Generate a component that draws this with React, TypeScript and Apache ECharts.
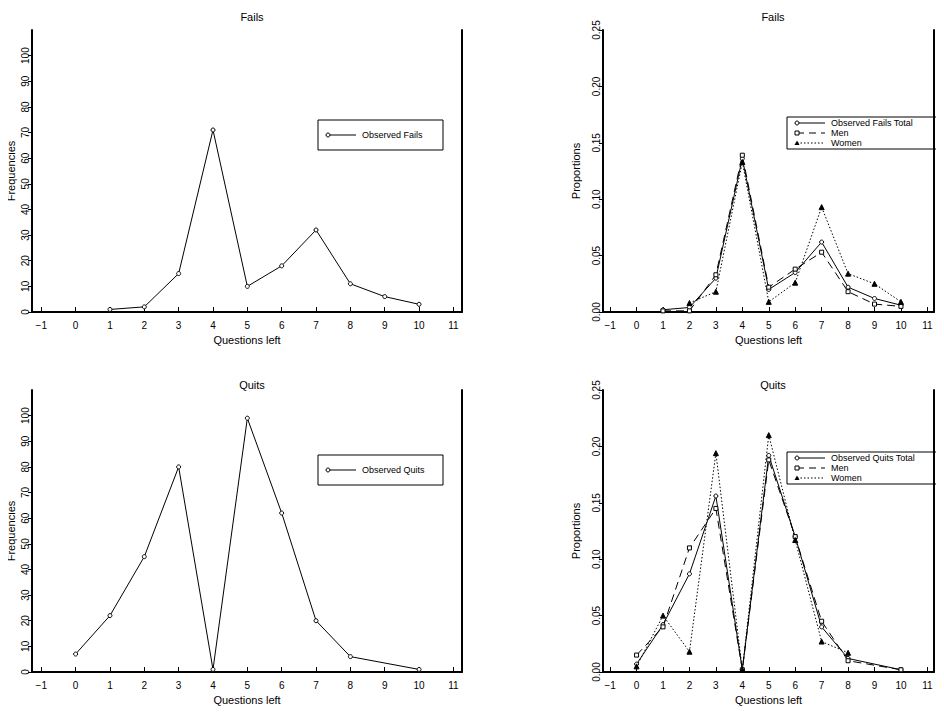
import React, { useEffect, useRef } from 'react';
import * as echarts from 'echarts';

const xTicks = [-1, 0, 1, 2, 3, 4, 5, 6, 7, 8, 9, 10, 11];

const failsX = [1, 2, 3, 4, 5, 6, 7, 8, 9, 10];
const failsFreq = [1, 2, 15, 71, 10, 18, 32, 11, 6, 3];
const failsTotal = [0.002, 0.004, 0.03, 0.136, 0.02, 0.035, 0.062, 0.022, 0.012, 0.006];
const failsMen = [0.001, 0.001, 0.033, 0.139, 0.022, 0.038, 0.053, 0.018, 0.007, 0.005];
const failsWomenX = [2, 3, 4, 5, 6, 7, 8, 9, 10];
const failsWomen = [0.008, 0.018, 0.133, 0.009, 0.026, 0.093, 0.034, 0.025, 0.009];

const quitsX = [0, 1, 2, 3, 4, 5, 6, 7, 8, 10];
const quitsFreq = [7, 22, 45, 80, 1, 99, 62, 20, 6, 1];
const quitsTotal = [0.007, 0.042, 0.087, 0.156, 0.002, 0.192, 0.12, 0.04, 0.012, 0.002];
const quitsMen = [0.015, 0.04, 0.11, 0.145, 0.002, 0.188, 0.12, 0.045, 0.01, 0.002];
const quitsWomenX = [0, 1, 2, 3, 4, 5, 6, 7, 8];
const quitsWomen = [0.005, 0.05, 0.018, 0.194, 0.002, 0.21, 0.117, 0.027, 0.017];

const FONT = 'Liberation Sans';
const zip = (xs: number[], ys: number[]) => xs.map((x, i) => [x, ys[i]]);

const grids = [
  { left: 32, top: 30, width: 430, height: 282 },
  { left: 603, top: 30, width: 331, height: 282 },
  { left: 32, top: 390, width: 430, height: 282 },
  { left: 603, top: 390, width: 331, height: 282 },
].map((g) => ({ ...g, containLabel: false, outerBoundsMode: 'none' }));

const lineStyle = { color: '#000', width: 2 };

function legendBox(x: number, y: number, w: number, labels: string[], kinds: string[]) {
  const h = labels.length === 1 ? 30 : 32;
  const children: any[] = [
    { type: 'rect', shape: { x, y, width: w, height: h }, style: { fill: '#fff', stroke: '#000', lineWidth: 1 } },
  ];
  labels.forEach((lab, i) => {
    const cy = labels.length === 1 ? y + h / 2 : y + 6 + i * 10;
    const k = kinds[i];
    const dash = k === 'men' ? [7, 5] : k === 'women' ? [1.5, 2] : null;
    children.push({ type: 'line', shape: { x1: x + 10, y1: cy, x2: x + 38, y2: cy }, style: { stroke: '#000', lineWidth: 1, lineDash: dash } });
    if (k === 'women') {
      children.push({ type: 'polygon', shape: { points: [[x + 10, cy - 2.5], [x + 7.5, cy + 2], [x + 12.5, cy + 2]] }, style: { fill: '#000' } });
    } else if (k === 'men') {
      children.push({ type: 'rect', shape: { x: x + 8, y: cy - 2, width: 4, height: 4 }, style: { fill: '#fff', stroke: '#000', lineWidth: 1 } });
    } else {
      children.push({ type: 'circle', shape: { cx: x + 10, cy, r: 2 }, style: { fill: '#fff', stroke: '#000', lineWidth: 1 } });
    }
    children.push({ type: 'text', x: x + 44, y: cy, style: { text: lab, font: `9px "${FONT}"`, fill: '#000', verticalAlign: 'middle' } });
  });
  return { type: 'group', children };
}

const yName = (text: string, x: number, y: number) => ({
  type: 'text', x, y, rotation: Math.PI / 2,
  style: { text, font: `11px "${FONT}"`, fill: '#000', align: 'center', verticalAlign: 'middle' },
});

const App: React.FC = () => {
  const chartRef = useRef<HTMLDivElement>(null);

  useEffect(() => {
    if (!chartRef.current) return;
    const chart = echarts.init(chartRef.current, null, { renderer: 'svg' });

    const xAxis = grids.map((_, i) => ({
      type: 'value', gridIndex: i, min: -1.27, max: 11.25,
      name: 'Questions left', nameLocation: 'middle', nameGap: 22,
      nameTextStyle: { fontFamily: FONT, fontSize: 11, color: '#000' },
      splitLine: { show: false },
      axisLine: { onZero: false, lineStyle },
      axisTick: { inside: true, length: 5, customValues: xTicks, lineStyle: { color: '#000' } },
      axisLabel: { customValues: xTicks, fontFamily: FONT, fontSize: 10, color: '#000', formatter: (v: number) => (v < 0 ? '\u2212' + -v : String(v)) },
    }));

    const yAxis: any[] = [];
    grids.forEach((_, i) => {
      const freq = i % 2 === 0;
      const ticks = freq ? [0, 10, 20, 30, 40, 50, 60, 70, 80, 90, 100] : [0, 0.05, 0.1, 0.15, 0.2, 0.25];
      yAxis.push({
        type: 'value', gridIndex: i, min: 0, max: freq ? 110 : 0.25,
        splitLine: { show: false },
        axisLine: { onZero: false, lineStyle },
        axisTick: { length: 4, lineStyle: { color: '#000' }, customValues: ticks },
        axisLabel: {
          rotate: 90, fontFamily: FONT, fontSize: 10, color: '#000', margin: 2,
          customValues: ticks,
          formatter: (v: number) => (freq ? String(v) : v.toFixed(2)),
        },
      });
      yAxis.push({
        type: 'value', gridIndex: i, position: 'right', min: 0, max: freq ? 110 : 0.25,
        splitLine: { show: false }, axisLine: { show: true, onZero: false, lineStyle },
        axisTick: { show: false }, axisLabel: { show: false },
      });
    });

    const mk = (name: string, gi: number, data: number[][], kind: string) => ({
      name, type: 'line', xAxisIndex: gi, yAxisIndex: gi * 2, data,
      symbol: kind === 'women' ? 'triangle' : kind === 'men' ? 'rect' : 'circle',
      symbolSize: kind === 'women' ? 5 : 4,
      itemStyle: { color: kind === 'women' ? '#000' : '#fff', borderColor: '#000', borderWidth: 1 },
      lineStyle: { color: '#000', width: 1, type: kind === 'men' ? [8, 5] : kind === 'women' ? [1.5, 2] : 'solid' },
      showAllSymbol: true,
    });

    const option: any = {
      animation: false,
      backgroundColor: '#fff',
      title: [
        { text: 'Fails', left: 247, top: 6, textAlign: 'center' },
        { text: 'Fails', left: 768, top: 6, textAlign: 'center' },
        { text: 'Quits', left: 247, top: 374, textAlign: 'center' },
        { text: 'Quits', left: 768, top: 374, textAlign: 'center' },
      ].map((t) => ({ ...t, textStyle: { fontFamily: FONT, fontSize: 11, fontWeight: 'normal', color: '#000' } })),
      grid: grids,
      xAxis, yAxis,
      series: [
        mk('Observed Fails', 0, zip(failsX, failsFreq), 'total'),
        mk('Observed Fails Total', 1, zip(failsX, failsTotal), 'total'),
        mk('Men', 1, zip(failsX, failsMen), 'men'),
        mk('Women', 1, zip(failsWomenX, failsWomen), 'women'),
        mk('Observed Quits', 2, zip(quitsX, quitsFreq), 'total'),
        mk('Observed Quits Total', 3, zip(quitsX, quitsTotal), 'total'),
        mk('Men', 3, zip(quitsX, quitsMen), 'men'),
        mk('Women', 3, zip(quitsWomenX, quitsWomen), 'women'),
      ],
      graphic: [
        yName('Frequencies', 11, 171),
        yName('Proportions', 576, 171),
        yName('Frequencies', 11, 531),
        yName('Proportions', 576, 531),
        legendBox(318, 120, 125, ['Observed Fails'], ['total']),
        legendBox(787, 117, 170, ['Observed Fails Total', 'Men', 'Women'], ['total', 'men', 'women']),
        legendBox(318, 455, 125, ['Observed Quits'], ['total']),
        legendBox(787, 452, 170, ['Observed Quits Total', 'Men', 'Women'], ['total', 'men', 'women']),
      ],
    };

    chart.setOption(option);
    return () => chart.dispose();
  }, []);

  return <div ref={chartRef} style={{ width: 944, height: 714, margin: -8 }} />;
};

export default App;
